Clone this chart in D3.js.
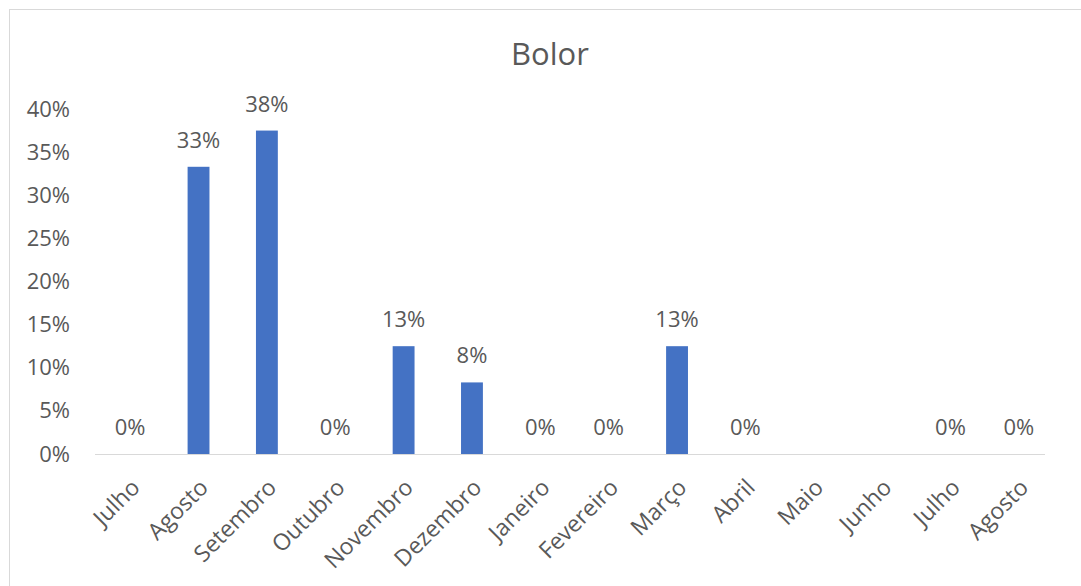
<!DOCTYPE html>
<html>
<head>
<meta charset="utf-8">
<script src="https://cdn.jsdelivr.net/npm/d3@7"></script>
<style>
  body { margin: 0; background: #fff; }
  text { font-family: "Open Sans", "Noto Sans", sans-serif; fill: #595959; }
</style>
</head>
<body>
<div id="chart"></div>
<script>
const months = ["Julho", "Agosto", "Setembro", "Outubro", "Novembro", "Dezembro", "Janeiro",
                "Fevereiro", "Março", "Abril", "Maio", "Junho", "Julho", "Agosto"];
// null = no value for that month (no bar, no label)
const values = [0, 0.333, 0.375, 0, 0.125, 0.083, 0, 0, 0.125, 0, null, null, 0, 0];
const yTicks = [0, 0.05, 0.10, 0.15, 0.20, 0.25, 0.30, 0.35, 0.40];
const title = "Bolor";

let width = 1081, height = 586;
let margin = {top: 109, right: 28, bottom: 132, left: 96};
let fmt = d3.format(".0%");

let svg = d3.select("#chart").append("svg")
    .attr("width", width)
    .attr("height", height);

svg.append("rect")
    .attr("x", 9.5).attr("y", 9.5)
    .attr("width", width).attr("height", height)
    .attr("fill", "none")
    .attr("stroke", "#d9d9d9");

let x = d3.scaleBand()
    .domain(d3.range(months.length))
    .range([margin.left, width - margin.right])
    .paddingInner(0.68)
    .paddingOuter(0.34);

let y = d3.scaleLinear()
    .domain([0, 0.40])
    .range([height - margin.bottom, margin.top]);

svg.append("text")
    .attr("x", 550).attr("y", 65)
    .attr("text-anchor", "middle")
    .attr("font-size", "31px")
    .text(title);

// y axis (labels only)
let yAxis = svg.append("g")
    .attr("transform", `translate(${ margin.left - 23 }, 0)`)
    .call(d3.axisLeft(y).tickValues(yTicks).tickFormat(fmt).tickSize(0));
yAxis.select(".domain").remove();
yAxis.selectAll("text")
    .attr("font-size", "22px")
    .attr("fill", "#595959")
    .attr("font-family", "'Open Sans', sans-serif");

// bars
let idx = d3.range(months.length).filter(i => values[i] !== null);

svg.selectAll("rect.bar")
    .data(idx)
    .enter().append("rect")
    .attr("class", "bar")
    .attr("x", i => x(i))
    .attr("width", x.bandwidth())
    .attr("y", i => y(values[i]))
    .attr("height", i => y(0) - y(values[i]))
    .attr("fill", "#4472c4");

// baseline
svg.append("line")
    .attr("x1", 95).attr("x2", 1045)
    .attr("y1", y(0) + 0.5).attr("y2", y(0) + 0.5)
    .attr("stroke", "#d9d9d9");

// data labels
svg.selectAll("text.lbl")
    .data(idx)
    .enter().append("text")
    .attr("class", "lbl")
    .attr("x", i => x(i) + x.bandwidth() / 2)
    .attr("y", i => y(values[i]) - 19)
    .attr("text-anchor", "middle")
    .attr("font-size", "22px")
    .text(i => fmt(values[i]));

// category labels
svg.selectAll("text.cat")
    .data(months)
    .enter().append("text")
    .attr("class", "cat")
    .attr("text-anchor", "end")
    .attr("font-size", "23px")
    .attr("transform", (d, i) => `translate(${ x(i) + x.bandwidth() / 2 + 11 }, ${ y(0) + 35 }) rotate(-45)`)
    .text(d => d);
</script>
</body>
</html>
